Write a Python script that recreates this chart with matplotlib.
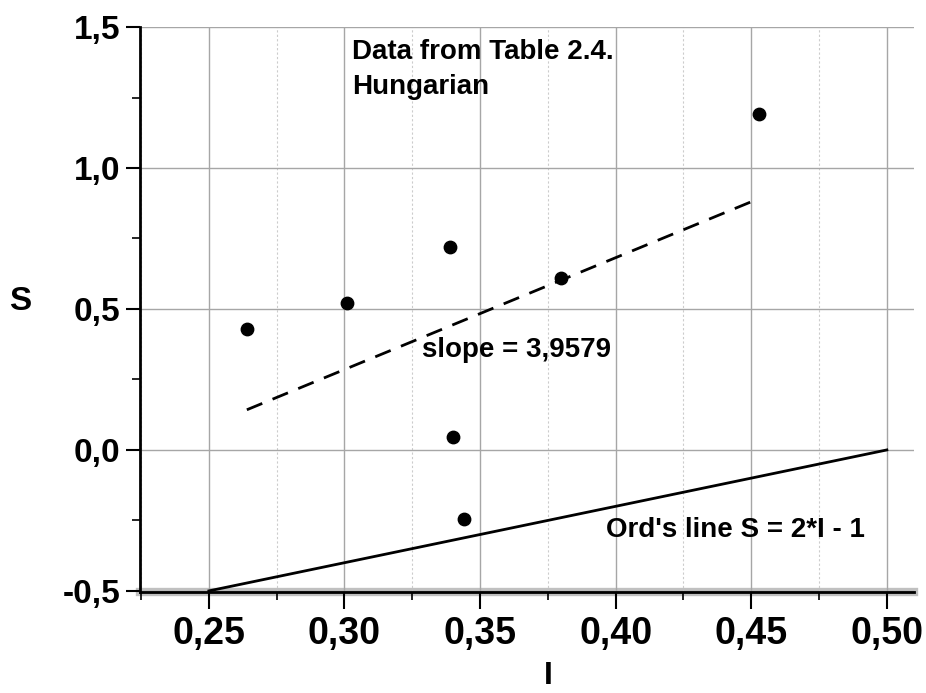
import matplotlib
matplotlib.use("Agg")
import matplotlib.pyplot as plt
import numpy as np
from matplotlib.ticker import MultipleLocator, FuncFormatter

# Data (Table 2.4, Hungarian)
I_vals = [0.264, 0.301, 0.339, 0.380, 0.453, 0.340, 0.344]
S_vals = [0.43, 0.52, 0.72, 0.61, 1.19, 0.045, -0.245]

# Ord's line S = 2*I - 1
ord_I = [0.25, 0.50]
ord_S = [2 * v - 1 for v in ord_I]

slope_text = "slope = 3,9579"
info_text = "Data from Table 2.4.\nHungarian"
ord_text = "Ord's line S = 2*I - 1"

plt.rcParams['font.family'] = ['Liberation Sans', 'DejaVu Sans']

fig = plt.figure(figsize=(9.26, 6.93), dpi=100)
ax = fig.add_axes([0.1512, 0.1457, 0.987 - 0.1512, 0.961 - 0.1457])

# regression line over data range
k, b = np.polyfit(I_vals, S_vals, 1)
fit_x = np.array([min(I_vals), max(I_vals)])
ax.plot(fit_x, k * fit_x + b, color='black', lw=2, dashes=(6, 4), zorder=3)

ax.plot(ord_I, ord_S, color='black', lw=2, zorder=3, clip_on=False)
ax.scatter(I_vals, S_vals, s=80, color='black', zorder=4)

ax.set_xlim(0.2246, 0.510)
ax.set_ylim(-0.504, 1.5)

ax.xaxis.set_major_locator(MultipleLocator(0.05))
ax.xaxis.set_minor_locator(MultipleLocator(0.025))
ax.yaxis.set_major_locator(MultipleLocator(0.5))
ax.yaxis.set_minor_locator(MultipleLocator(0.25))

comma = lambda fmt: FuncFormatter(lambda v, p: (fmt % v).replace('.', ','))
ax.xaxis.set_major_formatter(comma('%.2f'))
ax.yaxis.set_major_formatter(comma('%.1f'))

ax.grid(which='major', color='#a6a6a6', lw=1)
ax.grid(which='minor', axis='x', color='#cccccc', lw=0.8, ls=(0, (2, 2)))
ax.set_axisbelow(True)

for s in ['top', 'right']:
    ax.spines[s].set_visible(False)
for s in ['left', 'bottom']:
    ax.spines[s].set_linewidth(2)
    ax.spines[s].set_color('black')
ax.axhline(-0.504, color='#c0c0c0', lw=6, zorder=0.5, clip_on=False)

ax.tick_params(axis='both', which='major', direction='out', width=1.5, length=10)
ax.tick_params(axis='both', which='minor', direction='out', width=1.2, length=6)
ax.tick_params(axis='x', which='major', length=12, pad=5)
ax.tick_params(axis='y', which='major', pad=4)

for lab in ax.get_xticklabels():
    lab.set_fontsize(27)
    lab.set_fontweight('bold')
    lab.set_family(['Liberation Sans Narrow', 'Liberation Sans'])
for lab in ax.get_yticklabels():
    lab.set_fontsize(24)
    lab.set_fontweight('bold')

ax.set_xlabel('I', fontsize=23, fontweight='bold', va='center')
ax.xaxis.set_label_coords(0.527, -0.149)
ax.set_ylabel('S', fontsize=24, fontweight='bold', rotation=0, va='center', ha='center')
ax.yaxis.set_label_coords(-0.155, 0.515)

ax.text(0.3027, 1.35, info_text, fontsize=20, fontweight='bold', va='center',
        linespacing=1.45)
ax.text(0.3285, 0.355, slope_text, fontsize=20, fontweight='bold', va='center')
ax.text(0.3964, -0.285, ord_text, fontsize=20, fontweight='bold', va='center')

fig.savefig('out.png', dpi=100)
